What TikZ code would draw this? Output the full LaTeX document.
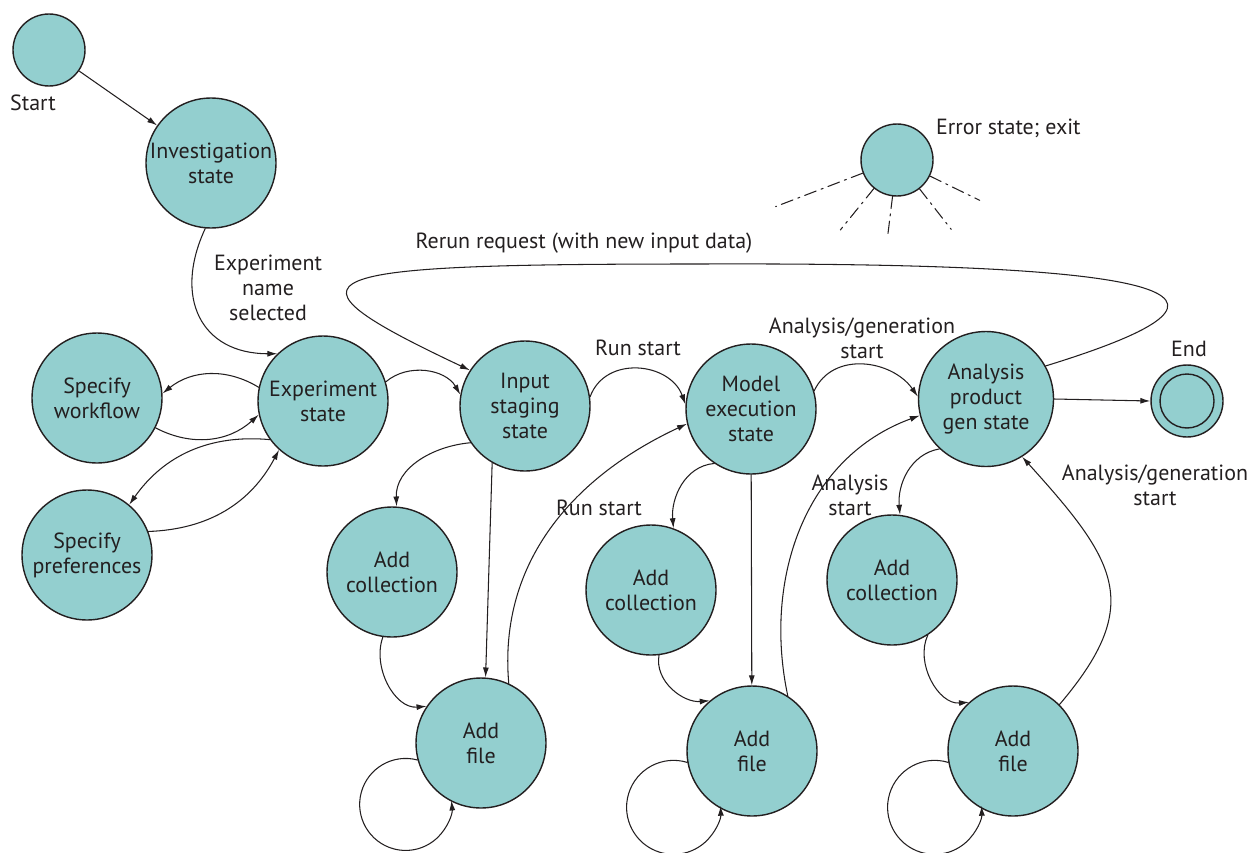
\documentclass[tikz,border=0pt]{standalone}
\usepackage{fontspec}
\setmainfont{PT Sans}
\usetikzlibrary{arrows.meta}
\usetikzlibrary{calc}
\definecolor{cellteal}{HTML}{93CFCF}
\definecolor{inkgray}{HTML}{231F20}
\tikzstyle{every node}=[font=\fontsize{12.5}{14.2}\selectfont,text=inkgray]
\tikzstyle{stnode}=[circle,draw,fill=cellteal,minimum size=2.6cm,inner sep=0pt,align=center,line width=0.8pt]
\tikzstyle{dotnode}=[circle,draw,fill=cellteal,minimum size=1.44cm,inner sep=0pt,line width=0.8pt]
\tikzstyle{trans}=[line width=0.6pt,-{Latex[length=2mm,width=1.2mm]}]
\tikzstyle{lbl}=[align=center,inner sep=1pt]

\begin{document}
\begin{tikzpicture}[x=0.02cm,y=0.02cm,color=inkgray,line cap=round,line join=round]
  \useasboundingbox (0,0) rectangle (1250,-852);
  % states
  \node[dotnode] (start) at (49,-50) {};
  \node[lbl] (startlbl) at (33,-103) {Start};
  \node[stnode] (inv) at (211,-163) {Investigation\\state};
  \node[stnode] (exp) at (323,-401) {Experiment\\state};
  \node[stnode] (wf) at (97,-398) {Specify\\workflow};
  \node[stnode] (pref) at (87,-555) {Specify\\preferences};
  \node[stnode] (inp) at (525,-406) {Input\\staging\\state};
  \node[stnode] (model) at (751,-409) {Model\\execution\\state};
  \node[stnode,minimum size=2.7cm] (ana) at (986,-399) {Analysis\\product\\gen state};
  \node[dotnode] (endst) at (1187,-401) {};
  \node[circle,draw,minimum size=1.08cm,line width=0.8pt] (endin) at (endst) {};
  \node[lbl] (endlbl) at (1189,-349) {End};
  \node[dotnode] (err) at (897,-160) {};
  \node[lbl,anchor=west] (errlbl) at (934,-128) {Error state; exit};
  \node[stnode] (ac1) at (392,-572) {Add\\collection};
  \node[stnode] (af1) at (481,-743) {Add\\file};
  \node[stnode] (ac2) at (651,-590) {Add\\collection};
  \node[stnode] (af2) at (752,-751) {Add\\file};
  \node[stnode] (ac3) at (892,-580) {Add\\collection};
  \node[stnode] (af3) at (1013,-751) {Add\\file};
  % error exits
  \foreach \ang/\len in {201/130,231/90,263/78,308/88,334/92}
    \draw[line width=0.6pt,dash pattern=on 7pt off 3pt on 1.2pt off 3pt] (err.\ang) -- ($(err)+(\ang:\len)$);
  % transitions
  \draw[trans] (start) -- (inv);
  \draw[trans] (inv.265) to[out=245,in=180,looseness=1.35] (exp.134);
  \node[lbl] (selname) at (268,-288) {Experiment\\name\\selected};
  \draw[trans] (exp.168) to[bend right=35] (wf.4);
  \draw[trans] (wf.-27) to[bend right=35] (exp.192);
  \draw[trans] (exp.216) to[bend right=30] (pref.50);
  \draw[trans] (pref.21) to[bend right=30] (exp.228);
  \draw[trans] (exp.17) to[bend left=50] (inp.170);
  \draw[trans] (ana.29) .. controls (1260,-300) and (1220,-262) .. (700,-264)
    .. controls (300,-264) and (268,-275) .. (inp.147);
  \node[lbl] (rerun) at (584,-243) {Rerun request (with new input data)};
  \draw[trans] (inp.8) to[out=70,in=110,looseness=1.2] (model.176);
  \node[lbl] (runA) at (638,-348) {Run start};
  \draw[trans] (model.16) to[out=65,in=125,looseness=1.1] (ana.178);
  \node[lbl] (genA) at (862,-338) {Analysis/generation\\start};
  \draw[trans] (ana.east) -- (endst.west);
  % input staging branch
  \draw[trans] (inp.214) to[out=185,in=92] (ac1.86);
  \draw[trans] (inp.240) -- (af1.86);
  \draw[trans] (ac1.262) to[out=250,in=185] (af1.146);
  \draw[trans] (af1.195) arc[start angle=75,end angle=365,radius=0.92cm];
  \draw[trans] (af1.65) to[out=95,in=205] (model.193);
  \node[lbl] (runB) at (599,-508) {Run start};
  % model execution branch
  \draw[trans] (model.236) to[out=185,in=95] (ac2.70);
  \draw[trans] (model) -- (af2);
  \draw[trans] (ac2.277) to[out=260,in=185] (af2.130);
  \draw[trans] (af2.190) arc[start angle=73,end angle=362,radius=0.94cm];
  \draw[trans] (af2.57) to[out=102,in=200] (ana.194);
  % analysis branch
  \draw[trans] (ana.227) to[out=190,in=95] (ac3.83);
  \node[lbl] (anaA) at (850,-495) {Analysis\\start};
  \draw[trans] (ac3.303) to[out=245,in=185] (af3.132);
  \draw[trans] (af3.190) arc[start angle=73,end angle=362,radius=0.94cm];
  \draw[trans] (af3.45) .. controls +(85,100) and +(95,-105) .. (ana.302);
  \node[lbl] (genB) at (1155,-485) {Analysis/generation\\start};
\end{tikzpicture}
\end{document}
